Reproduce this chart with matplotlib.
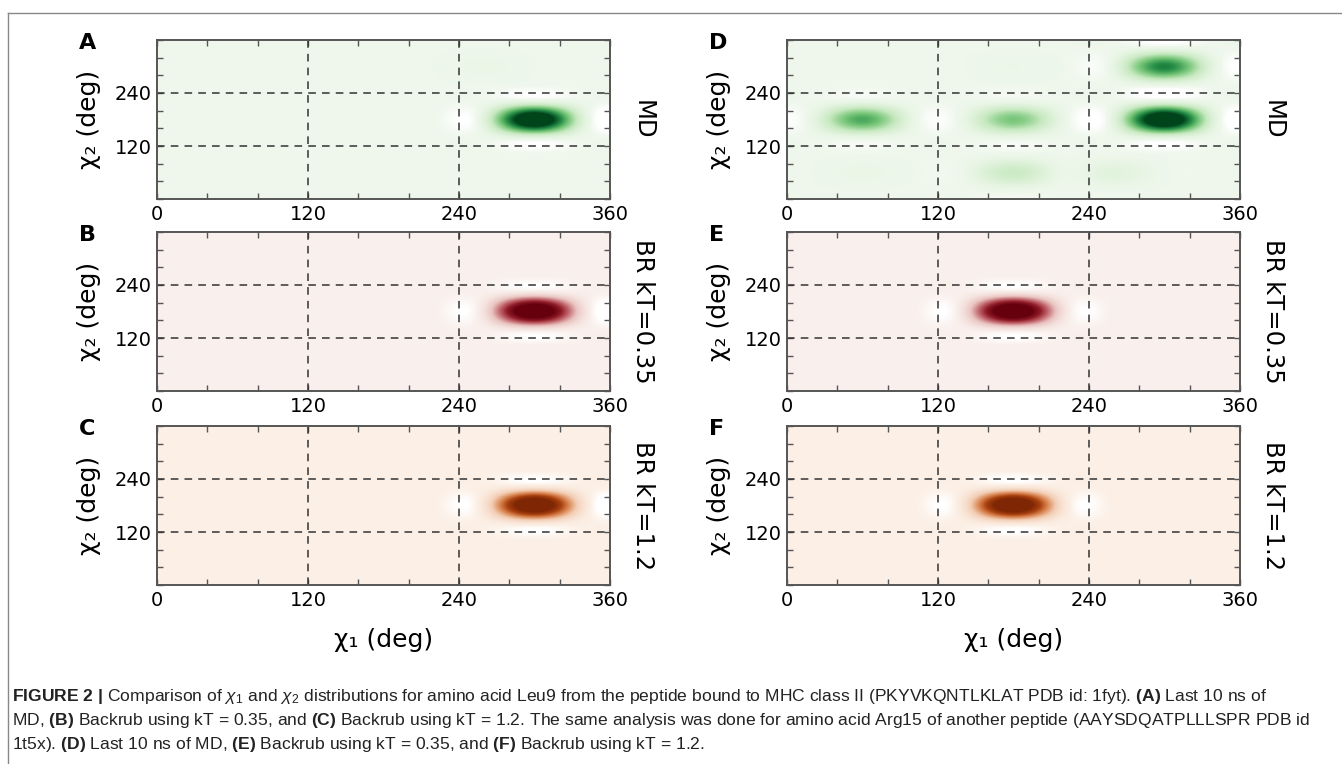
#!/usr/bin/env python3

import numpy as np
import matplotlib
matplotlib.use("Agg")
import matplotlib.pyplot as plt
from matplotlib.colors import LinearSegmentedColormap
from matplotlib.lines import Line2D
from matplotlib.ticker import FixedLocator, FuncFormatter

plt.rcParams["font.family"] = ["DejaVu Sans"]
plt.rcParams["mathtext.fontset"] = "custom"
plt.rcParams["mathtext.rm"] = "Liberation Sans"
plt.rcParams["mathtext.it"] = "Liberation Sans:italic"
plt.rcParams["mathtext.bf"] = "Liberation Sans:bold"

# =========================
# Hardcoded data
# =========================

# chi1 / chi2 histogram bins (deg)
chi_edges = np.arange(0, 361, 40)
background = 0.03

# (chi1, chi2, relative population) of the occupied bins
leu9_md = [(300, 180, 1.0), (260, 300, 0.045)]
leu9_br_035 = [(300, 180, 1.0)]
leu9_br_12 = [(300, 180, 1.0)]

arg15_md = [(300, 180, 1.0), (300, 300, 0.6), (60, 180, 0.48),
            (180, 180, 0.38), (180, 60, 0.19), (260, 60, 0.09),
            (60, 60, 0.045), (180, 300, 0.04)]
arg15_br_035 = [(180, 180, 1.0)]
arg15_br_12 = [(180, 180, 1.0)]

panel_letters = ["A", "B", "C", "D", "E", "F"]
row_titles = ["MD", "BR kT=0.35", "BR kT=1.2"]
row_colors = [
    ["#eef7eb", "#c7e9c0", "#74c476", "#238b45", "#00441b"],
    ["#f9efeb", "#e9c3c0", "#c0636a", "#8e1a27", "#67000d"],
    ["#fcefe5", "#f2cdb4", "#d98450", "#a8400f", "#7f2704"],
]

caption = [
    r"$\mathbf{FIGURE\ 2\ |}$ Comparison of $\chi_1$ and $\chi_2$ distributions for amino acid Leu9 "
    r"from the peptide bound to MHC class II (PKYVKQNTLKLAT PDB id: 1fyt). $\mathbf{(A)}$ Last 10 ns of",
    r"MD, $\mathbf{(B)}$ Backrub using kT = 0.35, and $\mathbf{(C)}$ Backrub using kT = 1.2. The same "
    r"analysis was done for amino acid Arg15 of another peptide (AAYSDQATPLLLSPR PDB id",
    r"1t5x). $\mathbf{(D)}$ Last 10 ns of MD, $\mathbf{(E)}$ Backrub using kT = 0.35, and "
    r"$\mathbf{(F)}$ Backrub using kT = 1.2.",
]

# =========================
# Plot
# =========================

W, H = 1342, 764
COL_LEFT = [157, 787]
ROW_TOP = [40, 232, 426]
AX_W, AX_H = 453, 159
VMAX = 0.6


def rect(left, top, width, height):
    return [left / W, 1 - (top + height) / H, width / W, height / H]


def white_cmap(colors):
    lo = background / VMAX
    stops = np.linspace(lo, 1, len(colors))
    return LinearSegmentedColormap.from_list(
        "w", [(0.0, "white")] + list(zip(stops, colors)))


def to_grid(peaks):
    x = [p[0] for p in peaks]
    y = [p[1] for p in peaks]
    w = [p[2] for p in peaks]
    hist, _, _ = np.histogram2d(x, y, bins=[chi_edges, chi_edges], weights=w)
    return np.where(hist.T > 0, hist.T, background)


fig = plt.figure(figsize=(W / 100, H / 100), dpi=100)

columns = [[leu9_md, leu9_br_035, leu9_br_12],
           [arg15_md, arg15_br_035, arg15_br_12]]

for c, col in enumerate(columns):
    for r, peaks in enumerate(col):
        left, top = COL_LEFT[c], ROW_TOP[r]
        ax = fig.add_axes(rect(left, top, AX_W, AX_H))
        ax.imshow(to_grid(peaks), origin="lower", extent=(0, 360, 0, 360),
                  aspect="auto", cmap=white_cmap(row_colors[r]), vmin=0, vmax=VMAX,
                  interpolation="mitchell", interpolation_stage="data")
        for v in (120, 240):
            ax.axvline(v, color="#333333", lw=1.1, ls=(0, (5, 4)))
            ax.axhline(v, color="#333333", lw=1.1, ls=(0, (5, 4)))
        ax.set_xlim(0, 360)
        ax.set_ylim(0, 360)
        ax.xaxis.set_major_locator(FixedLocator(chi_edges))
        ax.yaxis.set_major_locator(FixedLocator(chi_edges))
        ax.xaxis.set_major_formatter(
            FuncFormatter(lambda v, p: f"{v:.0f}" if v % 120 == 0 else ""))
        ax.yaxis.set_major_formatter(
            FuncFormatter(lambda v, p: f"{v:.0f}" if v in (120, 240) else ""))
        ax.tick_params(direction="in", length=4, width=1, colors="#555555",
                       labelcolor="black", labelsize=14, pad=4,
                       top=True, right=True)
        for s in ax.spines.values():
            s.set_color("#555555")
            s.set_linewidth(1.4)
        ax.set_ylabel("χ₂ (deg)", fontsize=18, labelpad=10)

        fig.text((left - 78) / W, 1 - (top + 9) / H, panel_letters[c * 3 + r],
                 fontsize=16, fontweight="bold", va="baseline", ha="left")
        fig.text((left + AX_W + 33) / W, 1 - (top + AX_H / 2) / H, row_titles[r],
                 fontsize=17.5, rotation=270, va="center", ha="center")
        if r == 2:
            fig.text((left + AX_W / 2) / W, 1 - 640 / H, "χ₁ (deg)",
                     fontsize=18, va="center", ha="center")

# figure frame (left and top edges)
fig.add_artist(Line2D([8 / W, 8 / W], [0, 1 - 13 / H], color="#888888", lw=1))
fig.add_artist(Line2D([8 / W, 1], [1 - 13 / H, 1 - 13 / H], color="#888888", lw=1))

for i, line in enumerate(caption):
    fig.text(12 / W, 1 - (701 + 24 * i) / H, line, family="Liberation Sans",
             fontsize=12.6, va="baseline", ha="left", color="#222222")

fig.savefig("out.png", dpi=100)
plt.close(fig)
